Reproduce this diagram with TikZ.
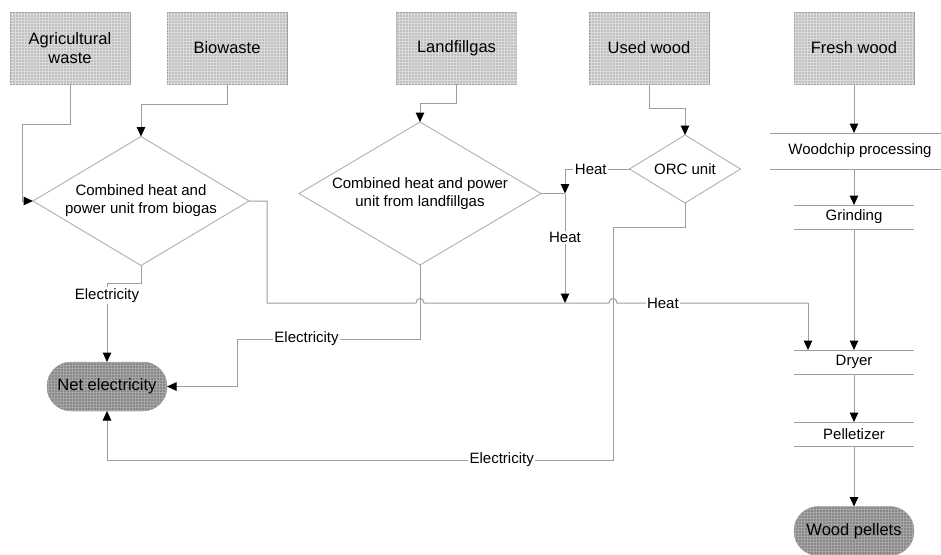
\documentclass[tikz,border=0pt]{standalone}
\usepackage{fontspec}
\setmainfont{Liberation Sans}
\usetikzlibrary{arrows.meta,shapes.geometric,calc,patterns}
\definecolor{linec}{RGB}{158,158,158}
\definecolor{diac}{RGB}{175,175,175}
\definecolor{boxfill}{RGB}{192,192,192}
\definecolor{boxgrid}{RGB}{218,218,218}
\definecolor{endfill}{RGB}{136,136,136}
\definecolor{endgrid}{RGB}{165,165,165}
\begin{document}
\begin{tikzpicture}[x=1pt,y=-1pt,
  conn/.style={draw=linec, line width=1pt},
  arr/.style={conn, -{Triangle[width=8.5pt,length=9.5pt,color=black]}},
  srcbox/.style={rectangle, draw=linec, fill=boxfill, postaction={pattern=grid, pattern color=boxgrid},
    minimum width=120pt, minimum height=72pt,
    inner sep=0pt, outer sep=0pt, align=center, font=\fontsize{16.5}{19.5}\selectfont},
  endbox/.style={rectangle, rounded corners=24pt, draw=linec, fill=endfill,
    postaction={pattern=grid, pattern color=endgrid}, minimum width=120pt,
    minimum height=49pt, inner sep=0pt, outer sep=0pt, font=\fontsize{16.5}{19.5}\selectfont},
  dia/.style={diamond, draw=diac, line width=0.9pt, inner sep=0pt, outer sep=0pt},
  txt/.style={font=\fontsize{15}{18}\selectfont, align=center, inner sep=0pt},
  lab/.style={font=\fontsize{15}{18}\selectfont, fill=white, inner sep=1.5pt},
  proc/.style={rectangle, inner sep=0pt, outer sep=0pt, font=\fontsize{15}{18}\selectfont}
]
\useasboundingbox (0,0) rectangle (941,554);

% source boxes
\node[srcbox] (agri) at (70,48) {Agricultural\\waste};
\node[srcbox] (bio) at (227,48) {Biowaste};
\node[srcbox] (lf) at (456.5,48) {Landfillgas};
\node[srcbox] (uw) at (649,48) {Used wood};
\node[srcbox] (fw) at (854,48) {Fresh wood};

% diamonds
\node[dia, minimum width=216pt, minimum height=129pt] (bg) at (141,201) {};
\node[txt] (bgt) at (bg.center) {Combined heat and\\power unit from biogas};
\node[dia, minimum width=242pt, minimum height=143pt] (lfd) at (420,193.5) {};
\node[txt] (lfdt) at (lfd.center) {Combined heat and power\\unit from landfillgas};
\node[dia, minimum width=111pt, minimum height=68pt] (orc) at (685,169) {};
\node[txt] (orct) at (orc.center) {ORC unit};

% end nodes
\node[endbox] (ne) at (107,386.5) {Net electricity};
\node[endbox] (wp) at (854,531) {Wood pellets};

% process steps
\node[proc, minimum width=180pt, minimum height=36pt] (wc) at (860,151) {Woodchip processing};
\node[proc, minimum width=120pt, minimum height=24pt] (gr) at (854,217) {Grinding};
\node[proc, minimum width=120pt, minimum height=24pt] (dr) at (854,362) {Dryer};
\node[proc, minimum width=120pt, minimum height=24pt] (pe) at (854,434) {Pelletizer};
\foreach \n in {wc,gr,dr,pe}{
  \draw[conn] (\n.north west) -- (\n.north east) (\n.south west) -- (\n.south east);
}

% helper coordinates
\coordinate (a1) at (22,124);
\coordinate (b1) at (141,104);
\coordinate (l1) at (420,103);
\coordinate (u1) at (685,108);
\coordinate (h1) at (565,193.5);
\coordinate (h2) at (565,303);
\coordinate (h3) at (267,303);
\coordinate (hx) at (808,303);
\coordinate (c1) at (107,283);
\coordinate (c2) at (237,339);
\coordinate (e1) at (613,227);
\coordinate (e2) at (107,460);

% inputs
\draw[arr] (agri.south) |- (a1) |- (bg.west);
\draw[arr] (bio.south) |- (b1) -- (bg.north);
\draw[arr] (lf.south) |- (l1) -- (lfd.north);
\draw[arr] (uw.south) |- (u1) -- (orc.north);

% heat flows
\draw[arr] (orc.west) -| node[lab, pos=0.3] {Heat} (h1);
\draw[conn] (lfd.east) -- (h1);
\draw[arr] (h1) -- node[lab, pos=0.4] {Heat} (h2);
\draw[conn] (bg.east) -| (h3) -- (416,303) .. controls (416,297) and (424,297) .. (424,303)
  -- (609,303) .. controls (609,297) and (617,297) .. (617,303)
  -- node[lab, pos=0.24] {Heat} (hx);
\draw[arr] (hx) -- (hx |- dr.north);

% electricity flows
\draw[arr] (bg.south) |- (c1) -- node[lab, pos=0.16] {Electricity} (ne.north);
\draw[arr] (lfd.south) |- node[lab, pos=0.81] {Electricity} (c2) |- (ne.east);
\draw[conn] (orc.south) |- (e1);
\draw[arr] (e1) |- node[lab, pos=0.61] {Electricity} (e2) -- (ne.south);

% wood chain
\draw[arr] (fw.south) -- (fw.south |- wc.north);
\draw[arr] (fw.south |- wc.south) -- (gr.north);
\draw[arr] (gr.south) -- (dr.north);
\draw[arr] (dr.south) -- (pe.north);
\draw[arr] (pe.south) -- (wp.north);
\end{tikzpicture}
\end{document}
